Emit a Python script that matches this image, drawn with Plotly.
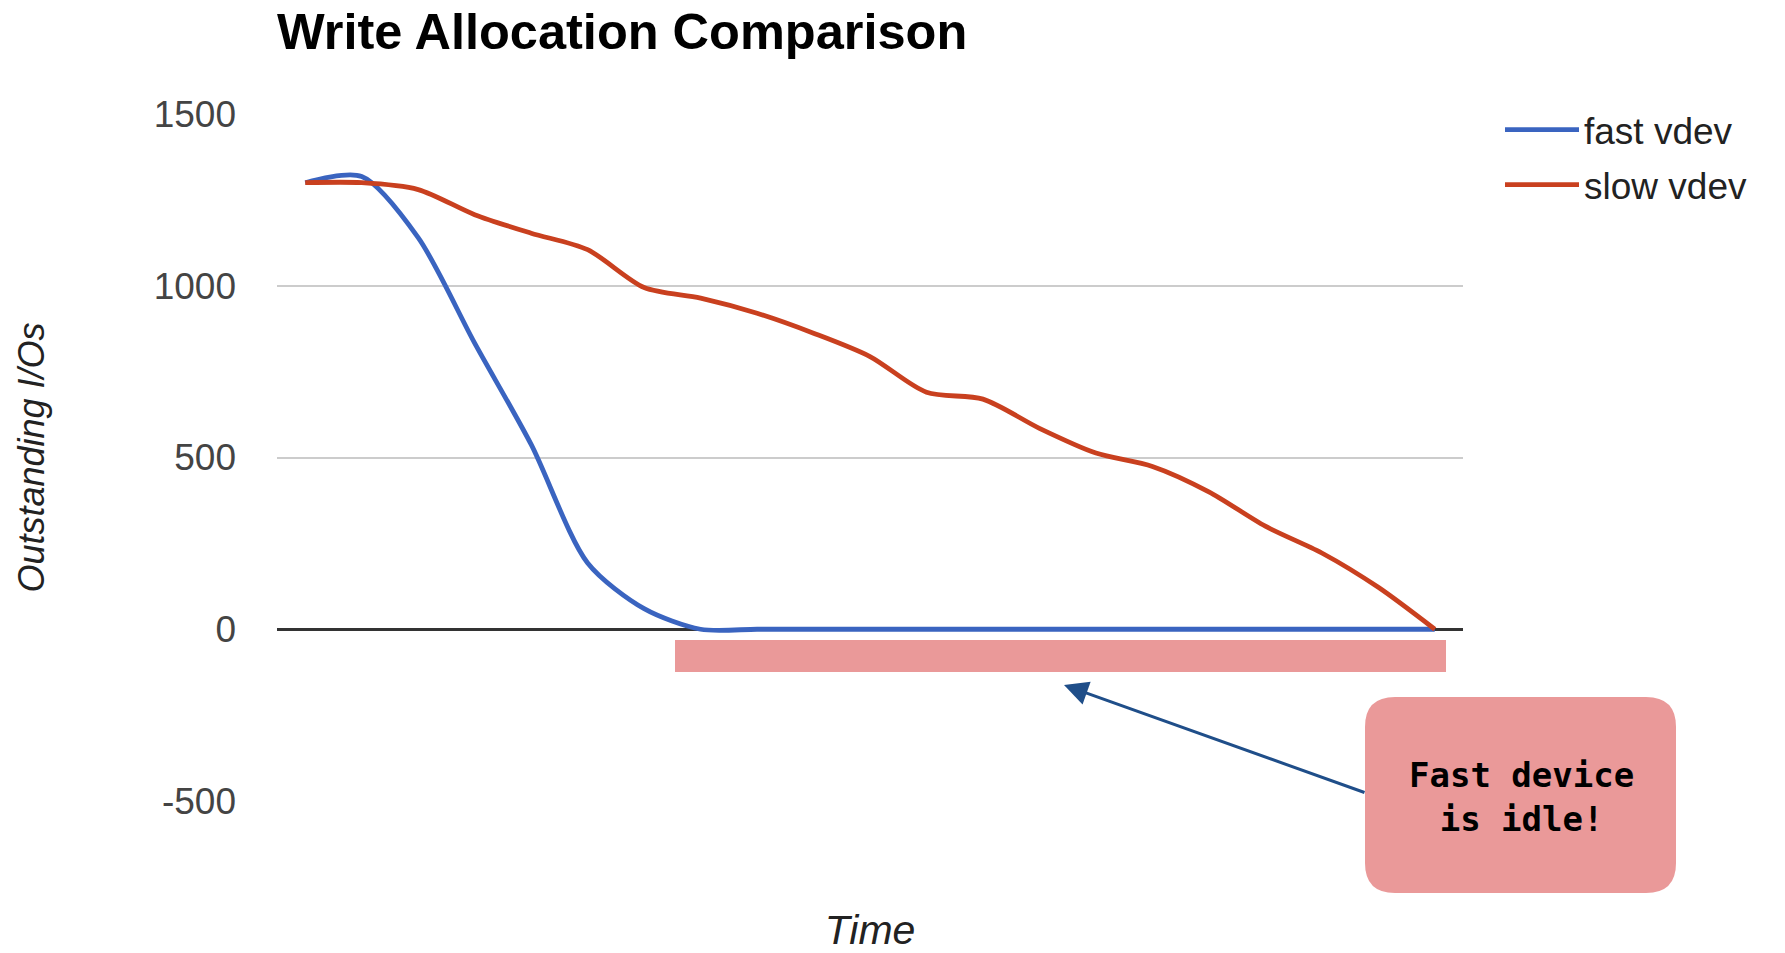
import plotly.graph_objects as go

# ---- data ----
time_steps = list(range(21))
fast_vdev = [1300, 1318, 1140, 833, 538, 193, 60, 0, 0, 0, 0, 0, 0, 0, 0, 0, 0, 0, 0, 0, 0]
slow_vdev = [1300, 1300, 1280, 1207, 1153, 1105, 995, 964, 920, 862, 794, 690, 670, 585, 513, 474, 400, 300, 222, 122, 0]
series_names = ["fast vdev", "slow vdev"]
series_colors = ["#3a64c0", "#c9401f"]
y_ticks = [-500, 0, 500, 1000, 1500]
y_tick_labels = ["-500", "0", "500", "1000", "1500"]

W, H = 1785, 953
ML, MR, MT, MB = 277, 322, 114, 152

fig = go.Figure()
for name, vals, col in zip(series_names, [fast_vdev, slow_vdev], series_colors):
    fig.add_trace(go.Scatter(
        x=time_steps, y=vals, name=name, mode="lines",
        line=dict(color=col, width=4.8, shape="spline", smoothing=0.8),
        legendgroup=name,
    ))

# paper-coordinate helpers (annotation overlay only)
def px_x(p):
    return (p - ML) / (W - ML - MR)

def px_y(p):
    return (H - MB - p) / (H - MT - MB)

# idle highlight bar
fig.add_shape(type="rect", xref="paper", yref="paper",
              x0=px_x(675), x1=px_x(1446), y0=px_y(672), y1=px_y(640),
              fillcolor="#ea9999", line=dict(width=0), layer="above")

# rounded callout box
bx0, bx1, by0, by1, r = 1365, 1676, 697, 893, 30
path = (f"M {px_x(bx0 + r)},{px_y(by0)} L {px_x(bx1 - r)},{px_y(by0)} "
        f"Q {px_x(bx1)},{px_y(by0)} {px_x(bx1)},{px_y(by0 + r)} "
        f"L {px_x(bx1)},{px_y(by1 - r)} Q {px_x(bx1)},{px_y(by1)} {px_x(bx1 - r)},{px_y(by1)} "
        f"L {px_x(bx0 + r)},{px_y(by1)} Q {px_x(bx0)},{px_y(by1)} {px_x(bx0)},{px_y(by1 - r)} "
        f"L {px_x(bx0)},{px_y(by0 + r)} Q {px_x(bx0)},{px_y(by0)} {px_x(bx0 + r)},{px_y(by0)} Z")
fig.add_shape(type="path", xref="paper", yref="paper", path=path,
              fillcolor="#ea9999", line=dict(width=0), layer="above")

fig.add_annotation(xref="paper", yref="paper", x=px_x(1521), y=px_y(797),
                   xanchor="center", yanchor="middle",
                   text="<b>Fast device<br>is idle!</b>", showarrow=False,
                   font=dict(family="DejaVu Sans Mono", size=34, color="#000000"),
                   align="center")

# arrow
fig.add_annotation(xref="paper", yref="paper", x=px_x(1064), y=px_y(685),
                   ax=1366 - 1064, ay=793 - 685, text="", showarrow=True,
                   arrowhead=2, arrowsize=1.6, arrowwidth=3, arrowcolor="#1f4e89")

fig.update_layout(
    width=W, height=H,
    margin=dict(l=ML, r=MR, t=MT, b=MB, autoexpand=False),
    paper_bgcolor="white", plot_bgcolor="white",
    font=dict(family="Arial, Liberation Sans, sans-serif"),
    title=dict(text="<b>Write Allocation Comparison</b>", x=ML / W, xanchor="left",
               y=1 - 31 / H, yanchor="middle",
               font=dict(size=50.5, color="#000000")),
    showlegend=True,
    legend=dict(x=px_x(1500), xanchor="left", y=px_y(99), yanchor="top",
                font=dict(size=37, color="#222222"), itemwidth=74,
                tracegroupgap=4, bgcolor="rgba(0,0,0,0)"),
    xaxis=dict(range=[-0.5, 20.5], showgrid=False, showticklabels=False,
               zeroline=False, showline=False, ticks="",
               title=dict(text="Time", standoff=128,
                          font=dict(size=41, color="#222222", style="italic"))),
    yaxis=dict(range=[-500, 1500], tickvals=y_ticks, ticktext=y_tick_labels,
               showgrid=True, gridcolor="#cccccc", gridwidth=2,
               zeroline=True, zerolinecolor="#333333", zerolinewidth=2.5,
               showline=False, ticks="", ticklabelstandoff=40,
               tickfont=dict(size=37, color="#444444"),
               title=dict(text="Outstanding I/Os", standoff=98,
                          font=dict(size=36, color="#222222", style="italic"))),
)

fig.write_html("out.html", config={"displayModeBar": False},
               post_script="document.body.style.margin='0';")
